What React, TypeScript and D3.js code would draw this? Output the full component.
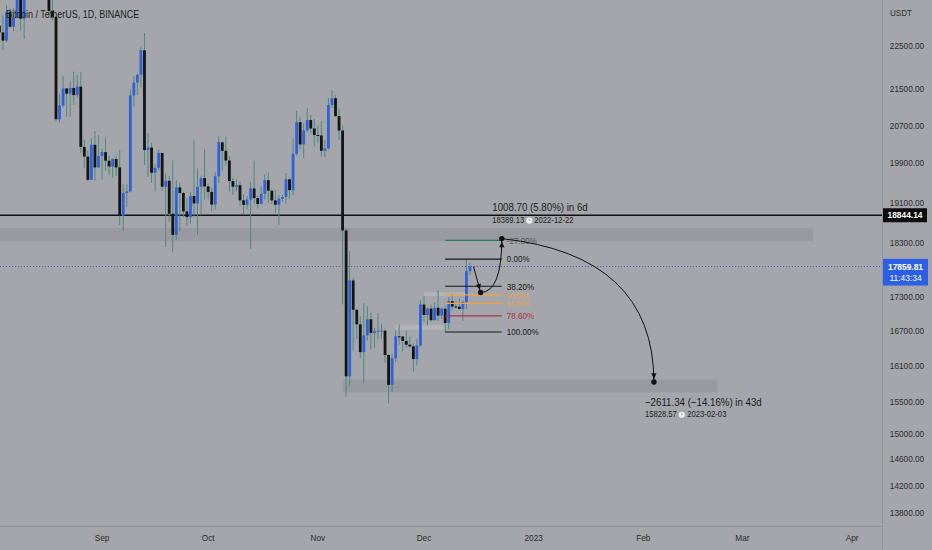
import { path as d3path, scaleLog, scaleUtc } from "d3";

// open, high, low, close (BTCUSDT daily, Binance)
type Bar = [number, number, number, number];

const aug2022: Bar[] = [
  [23296, 23509, 22850, 23269], [23269, 23459, 22654, 22978], [22978, 23647, 22681, 22818],
  [22818, 23223, 22400, 22622], [22622, 23472, 22586, 23312], [23312, 23398, 22927, 22954],
  [22954, 23400, 22844, 23175], [23175, 24245, 23154, 23810], [23810, 23926, 22865, 23149],
  [23149, 24226, 22664, 23954], [23954, 24918, 23852, 23934], [23934, 24456, 23601, 24403],
  [24403, 24888, 24296, 24441], [24441, 25047, 24138, 24305], [24305, 25212, 23773, 24095],
  [24095, 24247, 23688, 23855], [23855, 24446, 23180, 23336], [23336, 23602, 23106, 23191],
  [23191, 23203, 20783, 20834], [20834, 21382, 20761, 21140], [21140, 21800, 21100, 21517],
  [21517, 21522, 20890, 21400], [21400, 21680, 20890, 21529], [21529, 21900, 21150, 21368],
  [21368, 21819, 21310, 21559], [21559, 21886, 20107, 20241], [20241, 20400, 19800, 20037],
  [20037, 20155, 19520, 19555], [19555, 20433, 19550, 20285], [20285, 20578, 19540, 19812],
  [19812, 20490, 19797, 20050],
];

const sep2022: Bar[] = [
  [20050, 20208, 19565, 20131], [20131, 20444, 19753, 19951], [19951, 20056, 19652, 19831],
  [19831, 20000, 19600, 19986], [19986, 20055, 19633, 19812], [19812, 20180, 18650, 18837],
  [18837, 19464, 18540, 19290], [19290, 19460, 19012, 19319], [19319, 21500, 19296, 21361],
  [21361, 21800, 21111, 21651], [21651, 21860, 21365, 21826], [21826, 22488, 21538, 22395],
  [22395, 22799, 19860, 20174], [20174, 20540, 19617, 20227], [20227, 20330, 19497, 19701],
  [19701, 19890, 19320, 19803], [19803, 20189, 19748, 20113], [20113, 20117, 19335, 19416],
  [19416, 19688, 18232, 19537], [19537, 19634, 18711, 18875], [18875, 19956, 18125, 18461],
  [18461, 19550, 18356, 19401], [19401, 19500, 18531, 19289], [19289, 19316, 18805, 18920],
  [18920, 19180, 18629, 18807], [18807, 19310, 18680, 19227], [19227, 20385, 18816, 19079],
  [19079, 19790, 18471, 19412], [19412, 19645, 18843, 19591], [19591, 20185, 19155, 19422],
];

const oct2022: Bar[] = [
  [19422, 19484, 19159, 19310], [19310, 19395, 18920, 19056], [19056, 19719, 18959, 19629],
  [19629, 20475, 19490, 20337], [20337, 20365, 19730, 20158], [20158, 20456, 19854, 19955],
  [19955, 20058, 19320, 19531], [19531, 19601, 19250, 19417], [19417, 19559, 19316, 19446],
  [19446, 19526, 19020, 19141], [19141, 19268, 18860, 19051], [19051, 19221, 18965, 19157],
  [19157, 19513, 18190, 19382], [19382, 19951, 19070, 19185], [19185, 19227, 18975, 19068],
  [19068, 19425, 19063, 19268], [19268, 19676, 19160, 19550], [19550, 19706, 19096, 19334],
  [19334, 19359, 19071, 19139], [19139, 19345, 18900, 19053], [19053, 19250, 18650, 19172],
  [19172, 19248, 19111, 19208], [19208, 19695, 19070, 19567], [19567, 19601, 19157, 19345],
  [19345, 20415, 19242, 20095], [20095, 21020, 20055, 20772], [20772, 20877, 20200, 20295],
  [20295, 20750, 20000, 20595], [20595, 21085, 20553, 20818], [20818, 20930, 20530, 20635],
  [20635, 20840, 20250, 20495],
];

const nov2022: Bar[] = [
  [20495, 20700, 20330, 20485], [20485, 20800, 20048, 20159], [20159, 20393, 20031, 20209],
  [20209, 21302, 20187, 21148], [21148, 21480, 21081, 21300], [21300, 21365, 20880, 20905],
  [20905, 21069, 20384, 20591], [20591, 20700, 17166, 18547], [18547, 18600, 15588, 15922],
  [15922, 18150, 15754, 17601], [17601, 17650, 16361, 17070], [17070, 17070, 16560, 16812],
  [16812, 16955, 16229, 16330], [16330, 17190, 15815, 16619], [16619, 17134, 16528, 16900],
  [16900, 17015, 16377, 16663], [16663, 16750, 16400, 16692], [16692, 17011, 16546, 16700],
  [16700, 16820, 16550, 16700], [16700, 16740, 16150, 16280], [16280, 16293, 15476, 15781],
  [15781, 16300, 15668, 16226], [16226, 16706, 16160, 16603], [16603, 16812, 16458, 16599],
  [16599, 16600, 16342, 16522], [16522, 16701, 16400, 16458], [16458, 16600, 16406, 16428],
  [16428, 16484, 16002, 16212], [16212, 16548, 16100, 16442], [16442, 17249, 16428, 17163],
];

const dec2022: Bar[] = [
  [17163, 17320, 16855, 16977], [16977, 17105, 16787, 17092], [17092, 17159, 16858, 16886],
  [16886, 17202, 16878, 17106], [17106, 17424, 16867, 16967], [16967, 17107, 16906, 17088],
  [17088, 17142, 16678, 16836], [16836, 17299, 16733, 17224], [17224, 17360, 17058, 17128],
  [17128, 17227, 17092, 17127], [17127, 17270, 17071, 17085], [17085, 17241, 16871, 17209],
  [17209, 18000, 17080, 17774], [17774, 17930, 17700, 17860],
];

const monthBars: { year: number; month: number; bars: Bar[] }[] = [
  { year: 2022, month: 7, bars: aug2022 },
  { year: 2022, month: 8, bars: sep2022 },
  { year: 2022, month: 9, bars: oct2022 },
  { year: 2022, month: 10, bars: nov2022 },
  { year: 2022, month: 11, bars: dec2022 },
];

const priceTicks = [22500, 21500, 20700, 19900, 19100, 18300, 17300, 16700, 16100, 15500, 15000, 14600, 14200, 13800];
const timeTickDates = ["2022-09-01", "2022-10-01", "2022-11-01", "2022-12-01", "2023-01-01", "2023-02-01", "2023-03-01", "2023-04-01"];
const timeTickLabels = ["Sep", "Oct", "Nov", "Dec", "2023", "Feb", "Mar", "Apr"];

const keyLevel = 18844.14;
const lastPrice = 17859.81;
const countdown = "11:43:34";

// supply / demand zones
const zoneStarts = ["2022-07-01", "2022-11-08", "2022-12-01", "2022-11-23"];
const zoneEnds = ["2023-03-21", "2023-02-22", "2022-12-13", "2022-12-07"];
const zoneLows = [18340, 15656, 17318, 16717];
const zoneHighs = [18595, 15866, 17385, 16805];
const zoneFills = ["rgba(110,112,120,0.22)", "rgba(110,112,120,0.22)", "rgba(200,201,206,0.4)", "rgba(200,201,206,0.4)"];

// fib retracement
const fibHigh = 18000;
const fibLow = 16678;
const fibStart = "2022-12-07";
const fibEnd = "2022-12-23";
const fibLevels = [-0.27, 0, 0.382, 0.5, 0.618, 0.786, 1];
const fibLabels = ["-27.00%", "0.00%", "38.20%", "50.00%", "61.80%", "78.60%", "100.00%"];
const fibColors = ["#2f7a55", "#161616", "#161616", "#f4a043", "#f4a043", "#a8334a", "#161616"];
const fibTextColors = ["#505a55", "#161616", "#161616", "#f4a043", "#f4a043", "#a8334a", "#161616"];
const fibTextSizes = [9.6, 9.6, 9.6, 7.8, 7.8, 9.6, 9.6];

// projection path
const projStart = { date: "2022-12-15", price: 17860 };
const projPivot = { date: "2022-12-17", price: 17380.43 };
const projTarget = { date: "2022-12-23", price: 18389.13 };
const projEnd = { date: "2023-02-04", price: 15828.57 };
const projCtrl1 = { date: "2022-12-23", price: 17390 };
const projCtrl2 = { date: "2023-02-03T22:00", price: 18074 };
const upText = "1008.70 (5.80%) in 6d";
const upSub = ["18389.13", "2022-12-22"];
const downText = "\u22122611.34 (\u221214.16%) in 43d";
const downSub = ["15828.57", "2023-02-03"];

const W = 932;
const H = 550;
const plotRight = 882;
const plotBottom = 526;
const BG = "#a5a6ab";
const FONT = "'Liberation Sans', Arial, sans-serif";
const BLUE = "#2f62d9";
const DARK = "#141414";
const WICK = "#4d8a7e";

const x = scaleUtc()
  .domain([new Date(Date.UTC(2022, 7, 3, 4)), new Date(Date.UTC(2023, 3, 9, 11))])
  .range([0, plotRight]);
const y = scaleLog().domain([13614, 23604]).range([plotBottom, 0]);

const d = (s: string) => new Date(s.length > 10 ? s + "Z" : s + "T00:00:00Z");

function Label({
  x: lx,
  y: ly,
  size,
  anchor = "start",
  fill = "#262626",
  weight = 400,
  squeeze = 0.86,
  children,
}: {
  x: number;
  y: number;
  size: number;
  anchor?: "start" | "middle" | "end";
  fill?: string;
  weight?: number;
  squeeze?: number;
  children: React.ReactNode;
}) {
  return (
    <text
      transform={`translate(${lx},${ly}) scale(${squeeze},1)`}
      fontSize={size}
      fontFamily={FONT}
      fontWeight={weight}
      textAnchor={anchor}
      dominantBaseline="central"
      fill={fill}
    >
      {children}
    </text>
  );
}

function Clock({ cx, cy }: { cx: number; cy: number }) {
  return (
    <g>
      <circle cx={cx} cy={cy} r={3.1} fill="#eeeeee" />
      <path d={`M${cx},${cy - 1.8}V${cy}H${cx + 1.4}`} stroke="#9a9a9a" strokeWidth={0.7} fill="none" />
    </g>
  );
}

function arrowHead(tipX: number, tipY: number, fromX: number, fromY: number, len = 6, half = 2.6) {
  const dx = tipX - fromX;
  const dy = tipY - fromY;
  const n = Math.hypot(dx, dy) || 1;
  const ux = dx / n;
  const uy = dy / n;
  const bx = tipX - ux * len;
  const by = tipY - uy * len;
  return `M${tipX},${tipY}L${bx - uy * half},${by + ux * half}L${bx + uy * half},${by - ux * half}Z`;
}

export default function App() {
  const candles = monthBars.flatMap(({ year, month, bars }) =>
    bars.map((b, i) => ({ t: new Date(Date.UTC(year, month, i + 1)), o: b[0], h: b[1], l: b[2], c: b[3] })),
  );
  const bodyW = 2.8;

  const pt = (p: { date: string; price: number }) => [x(d(p.date)), y(p.price)] as [number, number];
  const s0 = pt(projStart);
  const p1 = pt(projPivot);
  const p2 = pt(projTarget);
  const p3 = pt(projEnd);
  const c1 = pt(projCtrl1);
  const c2 = pt(projCtrl2);

  const curve1 = d3path();
  curve1.moveTo(p1[0], p1[1]);
  curve1.quadraticCurveTo(c1[0], c1[1], p2[0], p2[1]);
  const curve2 = d3path();
  curve2.moveTo(p2[0], p2[1]);
  curve2.quadraticCurveTo(c2[0], c2[1], p3[0], p3[1]);

  const unit = (a: [number, number], b: [number, number]) => {
    const n = Math.hypot(b[0] - a[0], b[1] - a[1]) || 1;
    return [(b[0] - a[0]) / n, (b[1] - a[1]) / n];
  };
  const tip = (end: [number, number], from: [number, number], back = 2.6): [number, number] => {
    const u = unit(from, end);
    return [end[0] - u[0] * back, end[1] - u[1] * back];
  };
  const t0 = tip(p1, s0);
  const t1 = tip(p2, c1);
  const t2 = tip(p3, c2);

  const fx0 = x(d(fibStart));
  const fx1 = x(d(fibEnd));

  return (
    <svg width={W} height={H} viewBox={`0 0 ${W} ${H}`} style={{ position: "absolute", left: 0, top: 0, display: "block" }}>
      <defs>
        <clipPath id="plot">
          <rect x={0} y={0} width={plotRight} height={plotBottom} />
        </clipPath>
      </defs>
      <rect width={W} height={H} fill={BG} />

      <g clipPath="url(#plot)">
        {zoneStarts.map((s, i) => (
          <rect
            key={`z${i}`}
            x={x(d(s))}
            width={x(d(zoneEnds[i])) - x(d(s))}
            y={y(zoneHighs[i])}
            height={y(zoneLows[i]) - y(zoneHighs[i])}
            fill={zoneFills[i]}
          />
        ))}

        <line x1={0} x2={plotRight} y1={y(lastPrice)} y2={y(lastPrice)} stroke="#3e63c9" strokeWidth={1} strokeDasharray="1 2" />
        <line x1={0} x2={plotRight} y1={y(keyLevel)} y2={y(keyLevel)} stroke="#111" strokeWidth={1.3} />

        {candles.map((c) => {
          const cx = x(c.t);
          const top = y(Math.max(c.o, c.c));
          const bot = y(Math.min(c.o, c.c));
          return (
            <g key={c.t.toISOString()}>
              <line x1={cx} x2={cx} y1={y(c.h)} y2={y(c.l)} stroke={WICK} strokeWidth={1} />
              <rect x={cx - bodyW / 2} y={top} width={bodyW} height={Math.max(bot - top, 1)} fill={c.c >= c.o ? BLUE : DARK} />
            </g>
          );
        })}

        {fibLevels.map((lv, i) => {
          const ly = y(fibHigh - lv * (fibHigh - fibLow));
          return (
            <g key={fibLabels[i]}>
              <line x1={fx0} x2={fx1} y1={ly} y2={ly} stroke={fibColors[i]} strokeWidth={1.2} />
              <Label x={fx1 + 5} y={ly} size={fibTextSizes[i]} fill={fibTextColors[i]} squeeze={0.84}>
                {fibLabels[i]}
              </Label>
            </g>
          );
        })}

        <line x1={s0[0]} y1={s0[1]} x2={t0[0]} y2={t0[1]} stroke="#111" strokeWidth={1} />
        <path d={arrowHead(t0[0], t0[1], s0[0], s0[1])} fill="#111" />
        <path d={curve1.toString()} fill="none" stroke="#111" strokeWidth={1} />
        <path d={arrowHead(t1[0], t1[1], c1[0], c1[1])} fill="#111" />
        <path d={curve2.toString()} fill="none" stroke="#111" strokeWidth={1} />
        <path d={arrowHead(t2[0], t2[1], c2[0], c2[1])} fill="#111" />
        <circle cx={p1[0]} cy={p1[1]} r={2.7} fill="#111" />
        <circle cx={p2[0]} cy={p2[1]} r={2.7} fill="#111" />
        <circle cx={p3[0]} cy={p3[1]} r={2.7} fill="#111" />

        <Label x={p2[0] - 9.5} y={p2[1] - 31.8} size={11.3} fill="#1c1c1c">
          {upText}
        </Label>
        <Label x={p2[0] - 9.5} y={p2[1] - 18.8} size={8.9} fill="#1c1c1c">
          {upSub[0]}
        </Label>
        <Clock cx={p2[0] - 9.5 + 37} cy={p2[1] - 18} />
        <Label x={p2[0] - 9.5 + 42} y={p2[1] - 18.8} size={8.9} fill="#1c1c1c">
          {upSub[1]}
        </Label>

        <Label x={p3[0] - 9} y={p3[1] + 19.4} size={11.3} fill="#1c1c1c">
          {downText}
        </Label>
        <Label x={p3[0] - 9} y={p3[1] + 32} size={8.9} fill="#1c1c1c">
          {downSub[0]}
        </Label>
        <Clock cx={p3[0] - 9 + 36.8} cy={p3[1] + 32.8} />
        <Label x={p3[0] - 9 + 42.3} y={p3[1] + 32} size={8.9} fill="#1c1c1c">
          {downSub[1]}
        </Label>
      </g>

      <Label x={6} y={14} size={10.7} fill="#1e1e1e" squeeze={0.84}>
        Bitcoin / TetherUS, 1D, BINANCE
      </Label>

      {/* axes */}
      <line x1={plotRight + 0.5} x2={plotRight + 0.5} y1={0} y2={H} stroke="#939499" strokeWidth={1} />
      <line x1={0} x2={plotRight} y1={plotBottom + 0.5} y2={plotBottom + 0.5} stroke="#939499" strokeWidth={1} />

      <Label x={890} y={13} size={9.4} fill="#2c2c2c">
        USDT
      </Label>
      {priceTicks.map((p) => (
        <Label key={p} x={907} y={y(p)} size={9.6} anchor="middle" fill="#2c2c2c">
          {p.toFixed(2)}
        </Label>
      ))}
      {timeTickDates.map((t, i) => (
        <Label key={t} x={x(d(t))} y={538} size={9.6} anchor="middle" fill="#2c2c2c">
          {timeTickLabels[i]}
        </Label>
      ))}

      <rect x={883} y={y(keyLevel) - 7} width={44} height={14} fill="#0d0d0d" />
      <Label x={905} y={y(keyLevel)} size={9.8} anchor="middle" fill="#ffffff" weight={700}>
        {keyLevel.toFixed(2)}
      </Label>
      <rect x={883} y={y(lastPrice) - 7.7} width={45} height={26.7} fill="#2a5fe6" />
      <Label x={905.5} y={y(lastPrice)} size={9.8} anchor="middle" fill="#ffffff" weight={700}>
        {lastPrice.toFixed(2)}
      </Label>
      <Label x={905.5} y={y(lastPrice) + 11.7} size={9.8} anchor="middle" fill="#ffffff">
        {countdown}
      </Label>
    </svg>
  );
}
